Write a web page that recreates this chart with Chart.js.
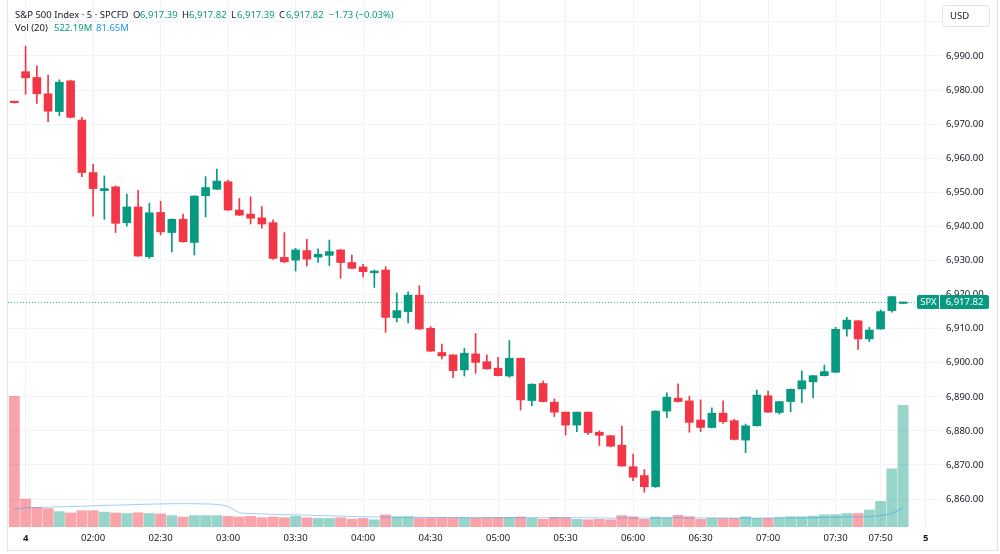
<!DOCTYPE html>
<html>
<head>
<meta charset="utf-8">
<script src="https://cdn.jsdelivr.net/npm/chart.js@4.4.1/dist/chart.umd.min.js"></script>
<style>
html,body{margin:0;padding:0;background:#fff;}
#wrap{position:relative;width:1000px;height:554px;overflow:hidden;font-family:"Noto Sans",sans-serif;}
#c{position:absolute;left:0;top:0;}
.t{position:absolute;font-size:9.5px;white-space:nowrap;line-height:12px;color:#131722;}
.l1{top:9px;}
.l2{top:22px;}
.up{color:#089981;}
.ma{color:#2196F3;}
#usd{position:absolute;left:942px;top:5px;width:46px;height:20px;border:1px solid #e0e3eb;border-radius:4px;background:#fff;font-size:9.5px;line-height:20px;color:#131722;box-sizing:content-box;}
#usd span{position:absolute;left:7px;top:0;}
</style>
</head>
<body>
<div id="wrap">
<canvas id="c" width="1000" height="554"></canvas>
<div class="t l1" style="left:15px">S&amp;P 500 Index · 5 · SPCFD</div>
<div class="t l1" style="left:133px">O</div><div class="t l1 up" style="left:140px">6,917.39</div>
<div class="t l1" style="left:182px">H</div><div class="t l1 up" style="left:189px">6,917.82</div>
<div class="t l1" style="left:231px">L</div><div class="t l1 up" style="left:237px">6,917.39</div>
<div class="t l1" style="left:279px">C</div><div class="t l1 up" style="left:286px">6,917.82</div>
<div class="t l1 up" style="left:329px">−1.73 (−0.03%)</div>
<div class="t l2" style="left:15px">Vol (20)</div>
<div class="t l2 up" style="left:54px">522.19M</div>
<div class="t l2 ma" style="left:96px">81.65M</div>
<div id="usd"><span>USD</span></div>
</div>
<script>
// ---- data (5-minute bars, index 0 = last bar of previous session) ----
const opens  = [6976.5,6985.4,6983.7,6978.9,6973.7,6982.7,6971.2,6955.8,6950.5,6951.6,
                6941.1,6945.7,6931.1,6944.1,6938.2,6942.1,6935.3,6949.0,6950.9,6953.1,
                6944.8,6943.6,6942.5,6941.1,6930.9,6930.1,6932.9,6931.0,6931.5,6933.1,
                6929.4,6928.1,6926.4,6927.2,6913.2,6915.0,6919.8,6910.1,6903.0,6902.3,
                6897.9,6902.6,6900.3,6898.4,6896.1,6901.3,6888.9,6893.9,6888.4,6885.5,
                6881.7,6885.5,6879.6,6878.6,6875.8,6869.5,6866.9,6863.6,6885.8,6889.6,
                6888.8,6883.2,6881.0,6885.2,6883.0,6877.3,6881.5,6890.3,6885.4,6888.6,
                6892.3,6894.4,6896.2,6897.2,6909.9,6912.3,6907.0,6909.9,6915.3,6917.39];
const highs  = [6976.6,6992.9,6987.1,6984.4,6983.0,6982.9,6972.0,6958.2,6954.8,6951.9,
                6949.5,6950.6,6946.8,6947.4,6942.2,6943.6,6949.0,6954.6,6956.8,6953.6,
                6948.2,6948.7,6945.8,6941.9,6938.2,6933.6,6936.2,6933.4,6936.0,6933.2,
                6931.6,6928.9,6927.2,6928.2,6920.4,6920.8,6922.6,6910.6,6905.5,6902.4,
                6904.2,6908.6,6902.3,6901.6,6906.5,6901.4,6893.8,6894.6,6889.4,6885.5,
                6885.5,6885.6,6880.0,6878.7,6881.4,6873.2,6868.7,6885.9,6891.2,6893.8,
                6890.2,6889.1,6886.8,6888.8,6883.4,6882.0,6892.0,6891.7,6888.7,6892.3,
                6897.6,6896.3,6899.3,6910.4,6913.3,6912.4,6910.4,6915.5,6919.5,6917.82];
const lows   = [6976.2,6978.8,6976.1,6970.7,6972.5,6971.8,6954.6,6943.0,6942.1,6938.2,
                6940.1,6931.2,6930.6,6937.5,6932.5,6935.4,6931.6,6942.8,6950.8,6944.7,
                6943.2,6940.7,6939.5,6930.3,6929.4,6926.9,6928.4,6929.4,6928.5,6924.8,
                6927.6,6925.2,6922.1,6908.9,6912.0,6911.7,6909.8,6903.3,6901.1,6895.6,
                6896.1,6896.9,6898.1,6896.1,6895.7,6886.1,6887.4,6888.5,6884.2,6878.8,
                6879.8,6879.0,6875.7,6875.3,6869.6,6865.4,6862.0,6863.4,6883.9,6888.5,
                6879.6,6879.8,6880.9,6882.2,6877.3,6873.6,6881.4,6885.4,6884.9,6885.6,
                6888.3,6889.7,6896.1,6897.1,6907.8,6903.9,6906.2,6909.8,6914.8,6917.39];
const closes = [6976.3,6983.6,6978.9,6973.8,6982.3,6972.0,6955.8,6951.1,6951.1,6940.9,
                6945.7,6931.3,6944.0,6938.4,6942.1,6935.5,6948.9,6951.4,6953.3,6944.8,
                6943.3,6942.4,6940.7,6930.6,6929.6,6933.1,6930.4,6931.8,6932.6,6929.4,
                6927.7,6926.7,6926.9,6913.3,6915.3,6919.8,6909.9,6903.4,6902.0,6897.7,
                6902.8,6900.1,6898.2,6896.2,6901.3,6889.1,6893.7,6888.6,6885.5,6881.7,
                6885.5,6879.5,6878.7,6875.5,6869.7,6866.4,6863.6,6885.8,6889.9,6888.6,
                6882.5,6881.0,6885.2,6882.7,6877.5,6881.5,6890.5,6885.5,6888.6,6892.2,
                6894.7,6896.2,6897.4,6909.8,6912.5,6907.0,6909.6,6915.0,6919.4,6917.82];
// volume in millions
const volumes = [561,120,84,79,66,60,70,70,64,60,
                 58,61,58,56,49,43,49,49,49,46,
                 43,46,40,43,40,46,40,37,37,40,
                 34,37,31,52,43,44,39,39,40,40,
                 40,39,40,41,41,43,37,33,41,40,
                 33,31,33,31,49,44,33,43,40,50,
                 44,33,37,37,37,44,37,37,40,44,
                 44,47,52,53,58,58,73,110,250,522.19];
// Vol MA(20), in millions
const volMA = [75,83,84,85,87,88,89,91,93,94,
               95,97,98,99,100,100,100,99,97,88,
               62,58,56,54,53,52,51,49,48,47,
               45,44,43,43,42,42,42,41,41,41,
               40,40,40,40,40,40,40,40,40,40,
               40,39,39,38,39,39,38,39,39,39,
               39,39,39,39,38,38,38,39,39,39,
               39,40,41,42,43,43,45,49,59,81.65];
// time axis ticks (bar index -> label)
const tickIndex  = [1,7,13,19,25,31,37,43,49,55,61,67,73,77,81];
const tickLabels = ['4','02:00','02:30','03:00','03:30','04:00','04:30','05:00','05:30','06:00','06:30','07:00','07:30','07:50','5'];
const symbol = 'SPX';

const UP = '#089981', DOWN = '#F23645';
const UPV = 'rgba(8,153,129,0.42)', DOWNV = 'rgba(242,54,69,0.45)';
const isUp = closes.map((c,i)=> c >= opens[i]);

Chart.defaults.font.family = '"Noto Sans", sans-serif';
Chart.defaults.font.size = 9.5;
Chart.defaults.color = '#131722';

const fmt = v => v.toLocaleString('en-US',{minimumFractionDigits:2, maximumFractionDigits:2});

const extras = {
  id:'extras',
  beforeDatasetsDraw(chart){
    const {ctx, chartArea, scales} = chart;
    const y = Math.round(scales.y.getPixelForValue(closes[closes.length-1])) + 0.5;
    ctx.save();
    ctx.strokeStyle = 'rgba(8,153,129,0.8)';
    ctx.lineWidth = 1;
    ctx.setLineDash([1,2]);
    ctx.beginPath(); ctx.moveTo(chartArea.left, y); ctx.lineTo(917, y); ctx.stroke();
    ctx.restore();
  },
  afterDraw(chart){
    const {ctx, scales} = chart;
    const last = closes[closes.length-1];
    const y = Math.round(scales.y.getPixelForValue(last));
    ctx.save();
    ctx.fillStyle = UP;
    ctx.beginPath();
    if (ctx.roundRect) ctx.roundRect(917, y-7, 72, 14, 2); else ctx.rect(917, y-7, 72, 14);
    ctx.fill();
    ctx.strokeStyle = '#ffffff'; ctx.lineWidth = 1;
    ctx.beginPath(); ctx.moveTo(939.5, y-7); ctx.lineTo(939.5, y+7); ctx.stroke();
    ctx.fillStyle = '#ffffff';
    ctx.font = '9.5px "Noto Sans", sans-serif';
    ctx.textAlign = 'center'; ctx.textBaseline = 'middle';
    ctx.fillText(symbol, 928.5, y+0.5);
    ctx.fillText(fmt(last), 964.5, y+0.5);
    // frame
    ctx.strokeStyle = '#e0e3eb';
    ctx.strokeRect(7.5, -1.5, 990, 552);
    ctx.restore();
  }
};

const xMin = -0.5644, xMax = 82.458;

new Chart(document.getElementById('c'), {
  type: 'bar',
  data: {
    datasets: [
      { label:'body', order:0, grouped:false, barThickness:8, minBarLength:1.5,
        data: opens.map((o,i)=>({x:i, y:[o, closes[i]]})),
        backgroundColor: isUp.map(u=>u?UP:DOWN), borderWidth:0, yAxisID:'y' },
      { label:'wick', order:1, grouped:false, barThickness:1,
        data: lows.map((l,i)=>({x:i, y:[l, highs[i]]})),
        backgroundColor: isUp.map(u=>u?UP:DOWN), borderWidth:0, yAxisID:'y' },
      { type:'line', label:'volMA', order:2, yAxisID:'yv',
        data: volMA.map((v,i)=>({x:i, y:v})),
        borderColor:'rgba(33,150,243,0.45)', borderWidth:1, pointRadius:0, tension:0.3, fill:false },
      { label:'volume', order:3, grouped:false, barThickness:10.2,
        data: volumes.map((v,i)=>({x:i, y:v})),
        backgroundColor: isUp.map(u=>u?UPV:DOWNV), borderWidth:0, yAxisID:'yv' }
    ]
  },
  options: {
    responsive:false, animation:false, maintainAspectRatio:false,
    layout:{ padding:{ left:8, top:0, right:0, bottom:0 } },
    plugins:{ legend:{display:false}, tooltip:{enabled:false} },
    scales:{
      x:{ type:'linear', min:xMin, max:xMax, offset:false,
          grid:{ color:'#f0f3fa', drawTicks:false, offset:false },
          border:{ display:false },
          afterBuildTicks(s){ s.ticks = tickIndex.map(v=>({value:v})); },
          afterFit(s){ s.height = 27; s.paddingLeft = 0; s.paddingRight = 0; },
          ticks:{ autoSkip:false, maxRotation:0, padding:6, color:'#131722',
                  callback:(v)=>{ const k = tickIndex.indexOf(v); return k>=0 ? tickLabels[k] : null; },
                  font:(c)=>({ family:'"Noto Sans", sans-serif', size:9.5,
                               weight:(c.tick && (c.tick.label==='4'||c.tick.label==='5')) ? 'bold' : 'normal' }) }
      },
      y:{ type:'linear', position:'right', min:6851.80, max:7006.43,
          grid:{ color:'#f0f3fa', drawTicks:false },
          border:{ display:false },
          afterFit(s){ s.width = 58; s.paddingTop = 0; s.paddingBottom = 0; },
          ticks:{ stepSize:10, includeBounds:false, padding:4, color:'#131722',
                  callback:(v)=> v > 6995 ? '' : fmt(v) }
      },
      yv:{ type:'linear', display:false, min:0, max:2263, grid:{display:false} }
    }
  },
  plugins:[extras]
});
</script>
</body>
</html>
